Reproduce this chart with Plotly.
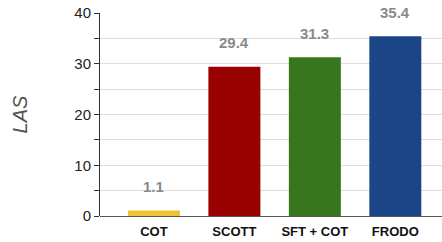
import plotly.graph_objects as go

categories = ["COT", "SCOTT", "SFT + COT", "FRODO"]
values = [1.1, 29.4, 31.3, 35.4]
colors = ["#F1C232", "#990000", "#38761D", "#1C4587"]
y_ticks = [0, 10, 20, 30, 40]

fig = go.Figure()
fig.add_trace(go.Bar(
    x=categories, y=values, width=0.646,
    marker=dict(color=colors, line=dict(width=0)),
    showlegend=False,
))
for c, v in zip(categories, values):
    fig.add_annotation(x=c, y=v, text=f"<b>{v}</b>", showarrow=False,
                       yshift=24, font=dict(size=15, color="#8a8a8a",
                                            family="Liberation Sans, Arial"))

fig.update_layout(
    width=442, height=242,
    margin=dict(l=100, r=0, t=13, b=26),
    paper_bgcolor="white", plot_bgcolor="white",
    font=dict(family="Liberation Sans, Arial", color="#222"),
    xaxis=dict(range=[-0.67, 3.58], showline=False, ticks="",
               tickfont=dict(size=13, color="#111"),
               ticktext=[f"<b>{c}</b>" for c in categories],
               tickvals=categories, showgrid=False, zeroline=False,
               ticklabelstandoff=6),
    yaxis=dict(range=[0, 40], tickvals=y_ticks, showline=True, linecolor="#333",
               linewidth=1, ticks="outside", ticklen=5, tickcolor="#333",
               tickfont=dict(size=15, color="#222"),
               showgrid=True, gridcolor="#dddddd", gridwidth=1,
               zeroline=True, zerolinecolor="#555", zerolinewidth=1,
               minor=dict(dtick=5, ticks="outside", ticklen=5, tickcolor="#333",
                          showgrid=True, gridcolor="#dddddd"),
               title=dict(text="<i>LAS</i>", font=dict(size=20, color="#555"),
                          standoff=41)),
)

fig.write_html("out.html", config={"displayModeBar": False},
               post_script="document.body.style.margin='0';")
